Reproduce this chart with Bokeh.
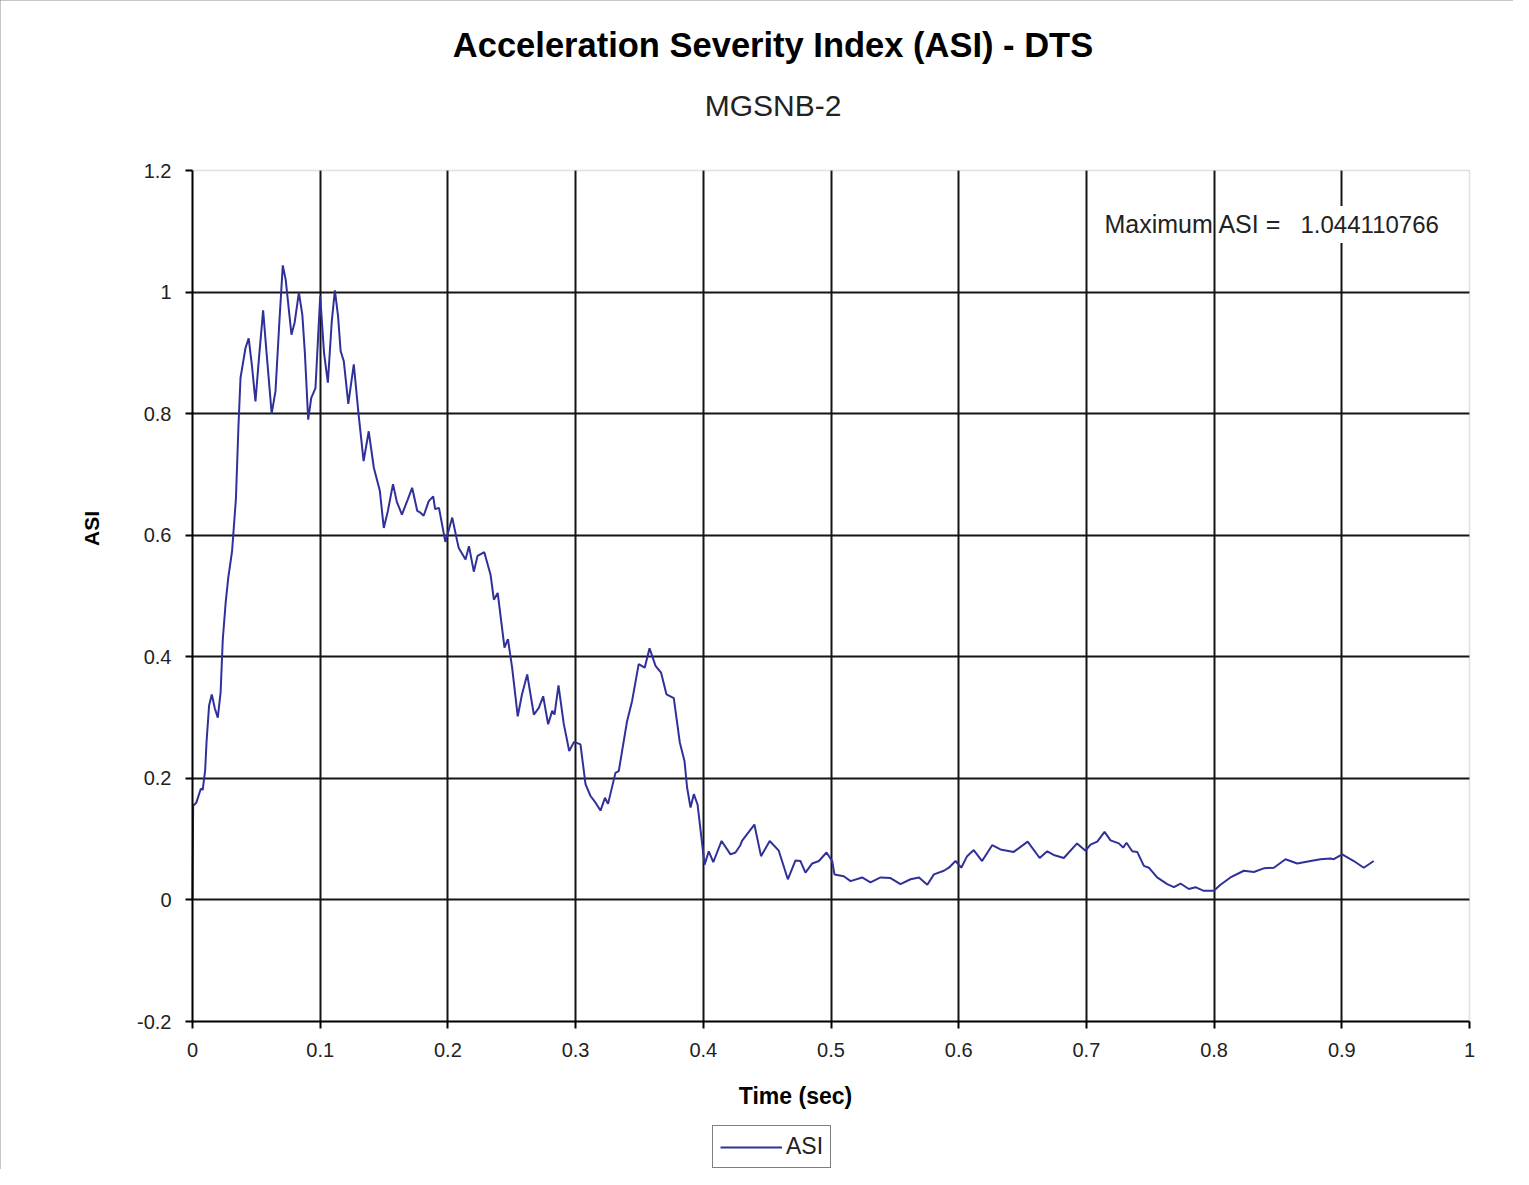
from bokeh.plotting import figure
from bokeh.models import (Range1d, FixedTicker, Label, Legend, LegendItem,
                          ColumnDataSource, BoxAnnotation)
from bokeh.embed import file_html
from bokeh.resources import INLINE

# ---------------- data ----------------
time_s = [
    0.000, 0.0005, 0.003, 0.0065, 0.008, 0.0099, 0.011, 0.013, 0.0151, 0.0175,
    0.0198, 0.022, 0.0237, 0.026, 0.028, 0.031, 0.034, 0.036, 0.0376, 0.0415,
    0.044, 0.0465, 0.0493, 0.052, 0.0553, 0.058, 0.062, 0.065, 0.068, 0.0707,
    0.073, 0.0775, 0.080, 0.0833, 0.086, 0.088, 0.0906, 0.093, 0.0963, 0.100,
    0.103, 0.106, 0.109, 0.1115, 0.114, 0.116, 0.1185, 0.122, 0.1263, 0.130,
    0.134, 0.138, 0.142, 0.1467, 0.1498, 0.153, 0.157, 0.160, 0.164, 0.1686,
    0.172, 0.176, 0.1785, 0.181, 0.185, 0.1885, 0.190, 0.193, 0.198, 0.2034,
    0.2073, 0.2085, 0.2138, 0.2165, 0.2203, 0.2232, 0.2285, 0.2334, 0.236, 0.239,
    0.2443, 0.247, 0.2503, 0.2547, 0.258, 0.2621, 0.2673, 0.2712, 0.2746, 0.2785,
    0.2817, 0.2835, 0.2866, 0.2907, 0.295, 0.2988, 0.3038, 0.3078, 0.3117, 0.3156,
    0.3195, 0.323, 0.3254, 0.3312, 0.3338, 0.3403, 0.3442, 0.3494, 0.3541, 0.3579,
    0.3626, 0.3669, 0.3712, 0.3769, 0.3816, 0.3853, 0.3873, 0.390, 0.3926, 0.3955,
    0.401, 0.4043, 0.4078, 0.4143, 0.4213, 0.4252, 0.4290, 0.4303, 0.440, 0.4452,
    0.452, 0.4591, 0.4662, 0.4722, 0.4761, 0.480, 0.4853, 0.4905, 0.4965, 0.5009,
    0.5027, 0.510, 0.5153, 0.5243, 0.5309, 0.5388, 0.5466, 0.5544, 0.5623, 0.5689,
    0.5754, 0.5806, 0.5884, 0.5923, 0.5975, 0.6020, 0.6066, 0.6118, 0.6183, 0.6262,
    0.6327, 0.6431, 0.654, 0.6634, 0.6693, 0.6744, 0.6823, 0.6927, 0.6993, 0.7032,
    0.7085, 0.7142, 0.7189, 0.7254, 0.7288, 0.7314, 0.7359, 0.7398, 0.745, 0.7489,
    0.7554, 0.7633, 0.7685, 0.7737, 0.7802, 0.7854, 0.7919, 0.7998, 0.805, 0.8128,
    0.8233, 0.8311, 0.8389, 0.8468, 0.8559, 0.8651, 0.8755, 0.8833, 0.8911, 0.8937,
    0.9003, 0.9094, 0.9172, 0.925,
]
asi = [
    0.000, 0.155, 0.160, 0.183, 0.181, 0.213, 0.260, 0.320, 0.338, 0.315,
    0.300, 0.341, 0.428, 0.490, 0.530, 0.574, 0.660, 0.780, 0.859, 0.908,
    0.924, 0.880, 0.820, 0.890, 0.970, 0.900, 0.800, 0.837, 0.950, 1.044,
    1.020, 0.930, 0.950, 0.999, 0.963, 0.900, 0.790, 0.826, 0.842, 0.993,
    0.900, 0.851, 0.950, 1.003, 0.960, 0.903, 0.886, 0.816, 0.881, 0.800,
    0.722, 0.771, 0.711, 0.673, 0.612, 0.640, 0.684, 0.655, 0.634, 0.659,
    0.678, 0.640, 0.637, 0.632, 0.656, 0.664, 0.643, 0.645, 0.589, 0.629,
    0.590, 0.579, 0.560, 0.582, 0.540, 0.566, 0.572, 0.535, 0.494, 0.505,
    0.415, 0.429, 0.382, 0.302, 0.338, 0.371, 0.305, 0.316, 0.335, 0.289,
    0.311, 0.305, 0.353, 0.290, 0.245, 0.260, 0.256, 0.190, 0.171, 0.160,
    0.147, 0.168, 0.158, 0.209, 0.212, 0.294, 0.327, 0.388, 0.382, 0.414,
    0.385, 0.374, 0.338, 0.332, 0.259, 0.228, 0.185, 0.152, 0.174, 0.157,
    0.058, 0.080, 0.062, 0.097, 0.075, 0.078, 0.090, 0.097, 0.124, 0.072,
    0.097, 0.081, 0.034, 0.065, 0.064, 0.045, 0.060, 0.064, 0.078, 0.064,
    0.042, 0.039, 0.031, 0.037, 0.029, 0.037, 0.036, 0.026, 0.034, 0.037,
    0.025, 0.042, 0.048, 0.053, 0.064, 0.053, 0.072, 0.082, 0.064, 0.090,
    0.083, 0.079, 0.096, 0.069, 0.080, 0.074, 0.069, 0.093, 0.081, 0.091,
    0.096, 0.112, 0.098, 0.093, 0.086, 0.094, 0.080, 0.079, 0.056, 0.053,
    0.037, 0.026, 0.021, 0.027, 0.018, 0.021, 0.015, 0.015, 0.025, 0.037,
    0.048, 0.046, 0.052, 0.053, 0.067, 0.060, 0.064, 0.067, 0.068, 0.067,
    0.075, 0.064, 0.053, 0.064,
]

x_ticks = [0, 0.1, 0.2, 0.3, 0.4, 0.5, 0.6, 0.7, 0.8, 0.9, 1]
x_tick_labels = ["0", "0.1", "0.2", "0.3", "0.4", "0.5", "0.6", "0.7", "0.8", "0.9", "1"]
y_ticks = [-0.2, 0, 0.2, 0.4, 0.6, 0.8, 1, 1.2]
y_tick_labels = ["-0.2", "0", "0.2", "0.4", "0.6", "0.8", "1", "1.2"]

title_text = "Acceleration Severity Index (ASI) - DTS"
subtitle_text = "MGSNB-2"
x_label = "Time (sec)"
y_label = "ASI"
series_name = "ASI"
max_label = "Maximum ASI ="
max_value = "1.044110766"

FONT = "Liberation Sans"

# ---------------- geometry ----------------
W, H = 1513, 1169
PL, PT = 192, 170          # plot-area left / top (canvas px)
PR, PB = 1469, 1021        # plot-area right / bottom (canvas px)
XLO, XHI = 0.0, 1.0        # visible x range of the plot area
YLO, YHI = -0.2, 1.2       # visible y range of the plot area
# The Bokeh frame covers the whole canvas so that every text (titles,
# tick labels, axis titles, legend) is drawn inside it.
ppx = (PR - PL) / (XHI - XLO)
ppy = (PB - PT) / (YHI - YLO)


def dx(px):
    return XLO + (px - PL) / ppx


def dy(py):
    return YHI - (py - PT) / ppy


p = figure(width=W, height=H, output_backend="svg", toolbar_location=None,
           title=None,
           x_range=Range1d(dx(0), dx(W)), y_range=Range1d(dy(H), dy(0)),
           min_border_left=0, min_border_right=0,
           min_border_top=0, min_border_bottom=0)
p.background_fill_color = "white"
p.border_fill_color = "white"
p.outline_line_color = None
p.styles = {"outline": "2px solid #8c8c8c", "outline-offset": "-2px"}

# axes, pinned to the plot-area edges
for ax in (p.xaxis[0], p.yaxis[0]):
    ax.axis_line_color = "black"
    ax.axis_line_width = 2
    ax.major_tick_line_color = "black"
    ax.major_tick_line_width = 2
    ax.major_tick_out = 7
    ax.major_tick_in = 0
    ax.minor_tick_line_color = None
    ax.major_label_text_font = FONT
    ax.major_label_text_font_size = "20px"
    ax.major_label_text_color = "#222222"
    ax.level = "overlay"

p.xaxis.ticker = FixedTicker(ticks=x_ticks)
p.xaxis.major_label_overrides = dict(zip(x_ticks, x_tick_labels))
p.xaxis.major_label_standoff = 14
p.xaxis.fixed_location = YLO
p.xaxis.bounds = (XLO, XHI)
p.yaxis.ticker = FixedTicker(ticks=y_ticks)
p.yaxis.major_label_overrides = dict(zip(y_ticks, y_tick_labels))
p.yaxis.major_label_standoff = 14
p.yaxis.fixed_location = XLO
p.yaxis.bounds = (YLO, YHI)

# gridlines (interior only; the plot-area border is grey)
p.xgrid.ticker = FixedTicker(ticks=x_ticks[1:-1])
p.ygrid.ticker = FixedTicker(ticks=y_ticks[1:-1])
p.xgrid.cross_bounds = (YLO, YHI)
p.ygrid.cross_bounds = (XLO, XHI)
for g in (p.xgrid[0], p.ygrid[0]):
    g.grid_line_color = "#141414"
    g.grid_line_width = 2

# plot-area border
p.add_layout(BoxAnnotation(left=XLO, right=XHI, bottom=YLO, top=YHI,
                           fill_color=None, line_color="#9c9c9c", line_width=1.5))

# data line
src = ColumnDataSource(dict(t=time_s, v=asi))
r = p.line("t", "v", source=src, line_color="#30309a", line_width=2)

# titles
p.add_layout(Label(x=dx(772.5), y=dy(44), text=title_text, text_font=FONT,
                   text_font_size="34.5px", text_font_style="bold",
                   text_align="center", text_baseline="middle", text_color="black"))
p.add_layout(Label(x=dx(772.5), y=dy(105), text=subtitle_text, text_font=FONT,
                   text_font_size="30px", text_align="center",
                   text_baseline="middle", text_color="#222222"))

# axis titles
p.add_layout(Label(x=dx(91), y=dy(528), text=y_label, text_font=FONT,
                   text_font_size="21px", text_font_style="bold", angle=1.5707963,
                   text_align="center", text_baseline="middle", text_color="black"))
p.add_layout(Label(x=dx(795), y=dy(1095), text=x_label, text_font=FONT,
                   text_font_size="23px", text_font_style="bold",
                   text_align="center", text_baseline="middle", text_color="black"))

# maximum annotation inside the plot area
p.add_layout(Label(x=dx(1104), y=dy(223), text=max_label, text_font=FONT,
                   text_font_size="25px", text_align="left",
                   text_baseline="middle", text_color="#222222"))
p.add_layout(Label(x=dx(1290), y=dy(224), text=max_value, text_font=FONT,
                   text_font_size="24px", text_align="left",
                   text_baseline="middle", text_color="#222222",
                   background_fill_color="white", padding=10))

# legend under the axis title
legend = Legend(items=[LegendItem(label=series_name, renderers=[r])],
                location=(712, H - 1168), orientation="horizontal",
                border_line_color="black", border_line_width=1.5,
                background_fill_color="white", background_fill_alpha=1,
                label_text_font=FONT, label_text_font_size="23px",
                label_text_color="#222222",
                glyph_width=62, glyph_height=20, label_standoff=4,
                padding=7, margin=0, spacing=0)
p.add_layout(legend)

open("out.html", "w").write(file_html(p, INLINE))
